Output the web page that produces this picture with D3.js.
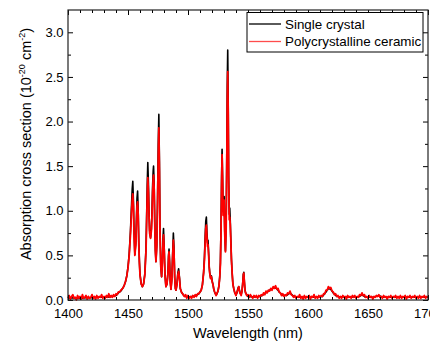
<!DOCTYPE html>
<html>
<head>
<meta charset="utf-8">
<script src="https://cdn.jsdelivr.net/npm/d3@7"></script>
<style>
  body { margin: 0; background: #fff; }
  svg text { font-family: "Liberation Sans", Arial, sans-serif; fill: #000; }
</style>
</head>
<body>
<svg id="chart" width="430" height="343"></svg>
<script>
// Absorption cross section spectra, [wavelength nm, value in 1e-20 cm^2]

const crystalSpectrum = [
  [1400, 0.02], [1405, 0.025], [1410, 0.02], [1415, 0.025], [1420, 0.025], [1425, 0.03], [1430, 0.03],
  [1435, 0.035], [1438, 0.045], [1440, 0.05], [1442, 0.08], [1444, 0.10], [1445, 0.12], [1446, 0.14],
  [1447, 0.17], [1448, 0.21], [1449, 0.27], [1450, 0.37], [1451, 0.52], [1452, 0.76], [1453, 1.08],
  [1453.5, 1.24], [1454, 1.33], [1454.5, 1.12], [1455, 0.78], [1455.7, 0.51], [1456.5, 0.64], [1457, 0.90],
  [1457.5, 1.14], [1458, 1.22], [1458.5, 1.00], [1459, 0.64], [1459.5, 0.43], [1460, 0.29], [1461, 0.18],
  [1462, 0.15], [1463, 0.18], [1464, 0.29], [1465, 0.58], [1465.5, 0.92], [1466, 1.28], [1466.5, 1.54],
  [1467, 1.32], [1467.5, 1.00], [1468, 0.78], [1468.8, 0.70], [1469.5, 0.80], [1470, 0.99], [1470.5, 1.28],
  [1471, 1.45], [1471.3, 1.50], [1471.8, 1.30], [1472.3, 0.88], [1472.8, 0.56], [1473.3, 0.43], [1474, 0.62],
  [1474.6, 1.12], [1475.2, 1.74], [1475.7, 2.08], [1476.2, 1.55], [1476.7, 0.78], [1477.3, 0.39], [1478, 0.26],
  [1478.6, 0.42], [1479.2, 0.70], [1479.6, 0.80], [1480.2, 0.58], [1480.8, 0.29], [1481.6, 0.15], [1482.5, 0.18],
  [1483.3, 0.31], [1483.8, 0.50], [1484.2, 0.57], [1484.7, 0.42], [1485.2, 0.21], [1485.8, 0.12], [1486.5, 0.23],
  [1487.2, 0.52], [1487.8, 0.75], [1488.3, 0.60], [1488.9, 0.26], [1489.5, 0.13], [1490, 0.11], [1490.8, 0.18],
  [1491.5, 0.30], [1492.2, 0.35], [1492.9, 0.25], [1493.6, 0.13], [1494.5, 0.09], [1495.5, 0.07], [1496.5, 0.05],
  [1498, 0.04], [1502, 0.035], [1506, 0.045], [1509, 0.07], [1511, 0.11], [1512, 0.17], [1513, 0.31],
  [1513.7, 0.48], [1514.3, 0.72], [1514.8, 0.88], [1515.3, 0.93], [1515.8, 0.76], [1516.3, 0.64], [1516.7, 0.67],
  [1517.2, 0.53], [1517.7, 0.37], [1518.1, 0.31], [1518.8, 0.25], [1519.5, 0.27], [1520.2, 0.21], [1520.9, 0.17],
  [1521.5, 0.12], [1522.2, 0.09], [1522.8, 0.07], [1523.5, 0.06], [1524.2, 0.07], [1525, 0.10], [1525.8, 0.16],
  [1526.5, 0.27], [1527, 0.42], [1527.5, 0.80], [1528, 1.38], [1528.4, 1.69], [1528.8, 1.40], [1529.3, 0.99],
  [1529.7, 1.10], [1530.1, 1.16], [1530.6, 0.78], [1531.2, 0.55], [1531.8, 0.84], [1532.3, 1.62], [1532.7, 2.40],
  [1533.1, 2.80], [1533.5, 2.25], [1533.9, 1.38], [1534.4, 0.96], [1534.8, 1.03], [1535.2, 0.90], [1535.6, 0.72],
  [1536.2, 0.46], [1536.8, 0.30], [1537.4, 0.18], [1538.1, 0.13], [1539, 0.08], [1540, 0.06], [1540.8, 0.08],
  [1541.6, 0.13], [1542.3, 0.15], [1543, 0.10], [1543.7, 0.07], [1544.3, 0.06], [1545, 0.10], [1545.6, 0.19],
  [1546.1, 0.29], [1546.5, 0.31], [1547, 0.20], [1547.5, 0.11], [1548, 0.08], [1549, 0.06], [1550, 0.04],
  [1555, 0.035], [1560, 0.04], [1563, 0.06], [1566, 0.09], [1569, 0.12], [1572, 0.14], [1574, 0.13],
  [1576, 0.09], [1579, 0.05], [1582, 0.05], [1585, 0.08], [1588, 0.04], [1595, 0.03], [1605, 0.03],
  [1612, 0.04], [1615, 0.09], [1617, 0.13], [1619, 0.12], [1621, 0.08], [1624, 0.04], [1635, 0.03],
  [1643, 0.04], [1645, 0.06], [1648, 0.03], [1655, 0.03], [1659, 0.05], [1662, 0.03], [1680, 0.03], [1700, 0.03]
];

const ceramicSpectrum = [
  [1400, 0.02], [1401, 0.05], [1402, 0.01], [1403, 0.04], [1404, 0.06], [1405, 0.02], [1406, 0.03], [1407, 0.00],
  [1408, 0.05], [1409, 0.02], [1410, 0.04], [1411, 0.01], [1412, 0.06], [1413, 0.02], [1414, 0.03], [1415, 0.05],
  [1416, 0.01], [1417, 0.04], [1418, 0.02], [1419, 0.03], [1420, 0.06], [1421, 0.02], [1422, 0.04], [1423, 0.01],
  [1424, 0.05], [1425, 0.02], [1426, 0.04], [1427, 0.03], [1428, 0.06], [1429, 0.02], [1430, 0.04], [1431, 0.02],
  [1432, 0.05], [1433, 0.03], [1434, 0.07], [1435, 0.03], [1436, 0.05], [1437, 0.03], [1438, 0.06], [1439, 0.04],
  [1440, 0.07], [1441, 0.06], [1442, 0.09], [1443, 0.09], [1444, 0.11], [1445, 0.12], [1446, 0.14], [1447, 0.17],
  [1448, 0.21], [1449, 0.27], [1450, 0.36], [1451, 0.50], [1452, 0.72], [1453, 1.00], [1453.5, 1.12], [1454, 1.19],
  [1454.5, 1.05], [1455, 0.75], [1455.7, 0.50], [1456.5, 0.62], [1457, 0.85], [1457.5, 1.05], [1458, 1.10],
  [1458.5, 0.95], [1459, 0.62], [1459.5, 0.42], [1460, 0.28], [1461, 0.18], [1462, 0.15], [1463, 0.18],
  [1464, 0.28], [1465, 0.55], [1465.5, 0.85], [1466, 1.15], [1466.5, 1.37], [1467, 1.22], [1467.5, 0.95],
  [1468, 0.75], [1468.8, 0.69], [1469.5, 0.78], [1470, 0.95], [1470.5, 1.20], [1471, 1.36], [1471.3, 1.40],
  [1471.8, 1.25], [1472.3, 0.85], [1472.8, 0.55], [1473.3, 0.43], [1474, 0.60], [1474.6, 1.05], [1475.2, 1.60],
  [1475.7, 1.93], [1476.2, 1.45], [1476.7, 0.75], [1477.3, 0.38], [1478, 0.26], [1478.6, 0.40], [1479.2, 0.65],
  [1479.6, 0.73], [1480.2, 0.55], [1480.8, 0.28], [1481.6, 0.15], [1482.5, 0.18], [1483.3, 0.30], [1483.8, 0.48],
  [1484.2, 0.54], [1484.7, 0.40], [1485.2, 0.20], [1485.8, 0.12], [1486.5, 0.22], [1487.2, 0.48], [1487.8, 0.67],
  [1488.3, 0.55], [1488.9, 0.25], [1489.5, 0.13], [1490, 0.11], [1490.8, 0.17], [1491.5, 0.28], [1492.2, 0.32],
  [1492.9, 0.24], [1493.6, 0.13], [1494.5, 0.09], [1495.5, 0.07], [1496.5, 0.05], [1497, 0.04], [1498, 0.06],
  [1499, 0.02], [1500, 0.05], [1501, 0.02], [1502, 0.04], [1503, 0.02], [1504, 0.05], [1505, 0.03], [1506, 0.06],
  [1507, 0.04], [1508, 0.07], [1509, 0.07], [1510, 0.09], [1511, 0.11], [1512, 0.17], [1513, 0.30], [1513.7, 0.45],
  [1514.3, 0.65], [1514.8, 0.80], [1515.3, 0.84], [1515.8, 0.70], [1516.3, 0.60], [1516.7, 0.62], [1517.2, 0.50],
  [1517.7, 0.36], [1518.1, 0.30], [1518.8, 0.24], [1519.5, 0.26], [1520.2, 0.20], [1520.9, 0.17], [1521.5, 0.12],
  [1522.2, 0.09], [1522.8, 0.07], [1523.5, 0.05], [1524.2, 0.08], [1525, 0.10], [1525.8, 0.16], [1526.5, 0.26],
  [1527, 0.40], [1527.5, 0.75], [1528, 1.30], [1528.4, 1.63], [1528.8, 1.35], [1529.3, 0.95], [1529.7, 1.05],
  [1530.1, 1.12], [1530.6, 0.75], [1531.2, 0.54], [1531.8, 0.80], [1532.3, 1.50], [1532.7, 2.20], [1533.1, 2.56],
  [1533.5, 2.10], [1533.9, 1.30], [1534.4, 0.90], [1534.8, 0.93], [1535.2, 0.85], [1535.6, 0.70], [1536.2, 0.45],
  [1536.8, 0.30], [1537.4, 0.18], [1538.1, 0.13], [1539, 0.08], [1540, 0.05], [1540.8, 0.09], [1541.6, 0.12],
  [1542.3, 0.15], [1543, 0.09], [1543.7, 0.07], [1544.3, 0.05], [1545, 0.10], [1545.6, 0.18], [1546.1, 0.28],
  [1546.5, 0.30], [1547, 0.20], [1547.5, 0.11], [1548, 0.08], [1549, 0.05], [1550, 0.06], [1551, 0.03],
  [1552, 0.06], [1553, 0.04], [1554, 0.02], [1555, 0.05], [1556, 0.03], [1557, 0.05], [1558, 0.02], [1559, 0.05],
  [1560, 0.04], [1561, 0.06], [1562, 0.05], [1563, 0.08], [1564, 0.06], [1565, 0.10], [1566, 0.08], [1567, 0.11],
  [1568, 0.10], [1569, 0.13], [1570, 0.11], [1571, 0.15], [1572, 0.13], [1573, 0.16], [1574, 0.12], [1575, 0.13],
  [1576, 0.09], [1577, 0.08], [1578, 0.05], [1579, 0.07], [1580, 0.04], [1581, 0.06], [1582, 0.05], [1583, 0.08],
  [1584, 0.07], [1585, 0.10], [1586, 0.06], [1587, 0.05], [1588, 0.03], [1589, 0.05], [1590, 0.02], [1591, 0.04],
  [1592, 0.03], [1593, 0.06], [1594, 0.02], [1595, 0.04], [1596, 0.01], [1597, 0.05], [1598, 0.02], [1599, 0.04],
  [1600, 0.03], [1601, 0.05], [1602, 0.01], [1603, 0.04], [1604, 0.03], [1605, 0.06], [1606, 0.02], [1607, 0.04],
  [1608, 0.02], [1609, 0.05], [1610, 0.03], [1611, 0.05], [1612, 0.04], [1613, 0.07], [1614, 0.07], [1615, 0.11],
  [1616, 0.11], [1617, 0.15], [1618, 0.13], [1619, 0.14], [1620, 0.10], [1621, 0.09], [1622, 0.06], [1623, 0.07],
  [1624, 0.04], [1625, 0.05], [1626, 0.02], [1627, 0.04], [1628, 0.02], [1629, 0.05], [1630, 0.03], [1631, 0.04],
  [1632, 0.01], [1633, 0.05], [1634, 0.03], [1635, 0.04], [1636, 0.02], [1637, 0.05], [1638, 0.03], [1639, 0.05],
  [1640, 0.02], [1641, 0.04], [1642, 0.03], [1643, 0.06], [1644, 0.05], [1645, 0.08], [1646, 0.05], [1647, 0.06],
  [1648, 0.03], [1649, 0.04], [1650, 0.02], [1651, 0.05], [1652, 0.03], [1653, 0.04], [1654, 0.01], [1655, 0.04],
  [1656, 0.03], [1657, 0.05], [1658, 0.04], [1659, 0.06], [1660, 0.03], [1661, 0.04], [1662, 0.02], [1663, 0.05],
  [1664, 0.03], [1665, 0.04], [1666, 0.01], [1667, 0.04], [1668, 0.03], [1669, 0.05], [1670, 0.02], [1671, 0.04],
  [1672, 0.03], [1673, 0.05], [1674, 0.02], [1675, 0.04], [1676, 0.02], [1677, 0.05], [1678, 0.02], [1679, 0.04],
  [1680, 0.03], [1681, 0.05], [1682, 0.01], [1683, 0.04], [1684, 0.03], [1685, 0.05], [1686, 0.02], [1687, 0.04],
  [1688, 0.03], [1689, 0.05], [1690, 0.02], [1691, 0.04], [1692, 0.02], [1693, 0.05], [1694, 0.02], [1695, 0.04],
  [1696, 0.03], [1697, 0.05], [1698, 0.02], [1699, 0.04], [1700, 0.03]
];

const seriesNames = ['Single crystal', 'Polycrystalline ceramic'];
const xTickValues = [1400, 1450, 1500, 1550, 1600, 1650, 1700];
const yTickValues = [0, 0.5, 1.0, 1.5, 2.0, 2.5, 3.0];

const colors = ['#000000', '#ff0000'];

const width = 430, height = 343;
const margin = { top: 10, right: 2, bottom: 43, left: 68 };

const svg = d3.select('#chart');
svg.append('rect').attr('width', width).attr('height', height).attr('fill', '#fff');

const x = d3.scaleLinear().domain([1400, 1700]).range([margin.left, width - margin.right]);
const y = d3.scaleLinear().domain([0, 3.25]).range([height - margin.bottom, margin.top]);

const xMinor = d3.range(1400, 1701, 10).filter(v => v % 50 !== 0);
const yMinor = [0.25, 0.75, 1.25, 1.75, 2.25, 2.75];

const bottom = height - margin.bottom;
const right = width - margin.right;

// spectra first, frame and ticks drawn over them
const line = d3.line().x(d => x(d[0])).y(d => y(d[1]));

svg.append('path')
  .datum(crystalSpectrum)
  .attr('d', line)
  .attr('fill', 'none')
  .attr('stroke', colors[0])
  .attr('stroke-width', 1.6)
  .attr('stroke-linejoin', 'round');

svg.append('path')
  .datum(ceramicSpectrum)
  .attr('d', line)
  .attr('fill', 'none')
  .attr('stroke', colors[1])
  .attr('stroke-width', 1.8)
  .attr('stroke-linejoin', 'round');

function drawAxis(axis, transform) {
  const g = svg.append('g')
    .attr('transform', transform)
    .call(axis);
  g.select('.domain').remove();
  g.selectAll('.tick line').attr('stroke', '#000');
  g.selectAll('.tick text')
    .style('font-family', '"Liberation Sans", Arial, sans-serif')
    .style('font-size', '13px')
    .attr('fill', '#000');
  return g;
}

// bottom / top
drawAxis(d3.axisBottom(x).tickValues(xTickValues).tickSize(-5).tickPadding(8.5).tickFormat(d3.format('d')),
  `translate(0,${bottom})`);
drawAxis(d3.axisBottom(x).tickValues(xMinor).tickSize(-3).tickFormat(''), `translate(0,${bottom})`);
drawAxis(d3.axisTop(x).tickValues(xTickValues).tickSize(-5).tickFormat(''), `translate(0,${margin.top})`);
drawAxis(d3.axisTop(x).tickValues(xMinor).tickSize(-3).tickFormat(''), `translate(0,${margin.top})`);

// left / right
drawAxis(d3.axisLeft(y).tickValues(yTickValues).tickSize(-5).tickPadding(4.5).tickFormat(d3.format('.1f')),
  `translate(${margin.left},0)`);
drawAxis(d3.axisLeft(y).tickValues(yMinor).tickSize(-3).tickFormat(''), `translate(${margin.left},0)`);
drawAxis(d3.axisRight(y).tickValues(yTickValues).tickSize(-5).tickFormat(''), `translate(${right},0)`);
drawAxis(d3.axisRight(y).tickValues(yMinor).tickSize(-3).tickFormat(''), `translate(${right},0)`);

// frame
svg.append('rect')
  .attr('x', margin.left)
  .attr('y', margin.top)
  .attr('width', right - margin.left)
  .attr('height', bottom - margin.top)
  .attr('fill', 'none')
  .attr('stroke', '#222')
  .attr('stroke-width', 1.2);

// axis titles
svg.append('text')
  .attr('x', (margin.left + right) / 2)
  .attr('y', 338)
  .attr('text-anchor', 'middle')
  .style('font-size', '14.5px')
  .text('Wavelength (nm)');

const yTitle = svg.append('text')
  .attr('transform', 'translate(31,144) rotate(-90)')
  .attr('text-anchor', 'middle')
  .style('font-size', '14.5px');
yTitle.append('tspan').text('Absorption cross section (10');
yTitle.append('tspan').attr('dy', '-6').style('font-size', '9px').text('-20');
yTitle.append('tspan').attr('dy', '6').text(' cm');
yTitle.append('tspan').attr('dy', '-6').style('font-size', '9px').text('-2');
yTitle.append('tspan').attr('dy', '6').text(')');

// legend
const legend = svg.append('g');
legend.append('rect')
  .attr('x', 247)
  .attr('y', 12.5)
  .attr('width', 176)
  .attr('height', 39.5)
  .attr('fill', '#fff')
  .attr('stroke', '#000')
  .attr('stroke-width', 1);

seriesNames.forEach((name, i) => {
  const ly = 24 + i * 17.5;
  legend.append('line')
    .attr('x1', 249).attr('x2', 281)
    .attr('y1', ly).attr('y2', ly)
    .attr('stroke', colors[i])
    .attr('stroke-opacity', i === 1 ? 0.7 : 1)
    .attr('stroke-width', 1.3);
  legend.append('text')
    .attr('x', 285)
    .attr('y', ly + 4.7)
    .style('font-size', '13.4px')
    .text(name);
});
</script>
</body>
</html>
